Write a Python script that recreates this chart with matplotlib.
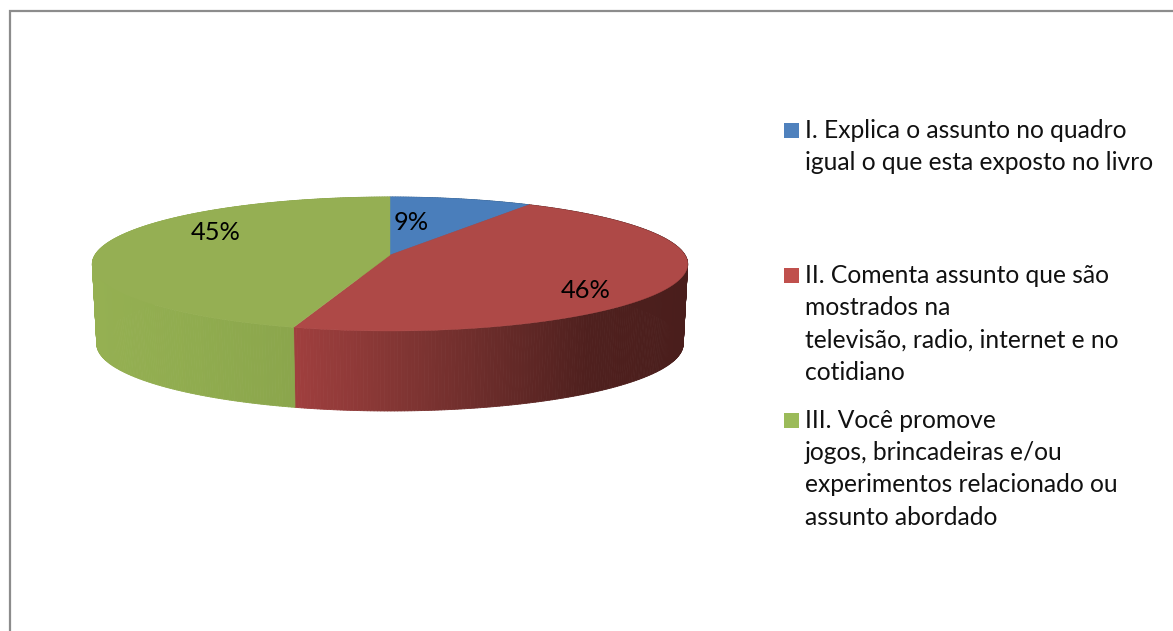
"""
3D style pie chart with legend on the right
"""
import numpy as np
import matplotlib
matplotlib.use("Agg")
import matplotlib.pyplot as plt
from matplotlib.collections import PolyCollection
from matplotlib.colors import LinearSegmentedColormap, Normalize

plt.rcParams["font.family"] = ["Lato", "DejaVu Sans"]

# shares as they sit in the picture, the labels show them rounded
percent_values = [8.8, 45.8, 45.4]
legend_lines = [
    ["I. Explica o assunto no quadro", "igual o que esta exposto no livro"],
    ["II. Comenta assunto que são", "mostrados na",
     "televisão, radio, internet e no", "cotidiano"],
    ["III. Você promove", "jogos, brincadeiras e/ou",
     "experimentos relacionado ou", "assunto abordado"],
]

top_colors = ["#4A7EBB", "#AE4947", "#95AF53"]
legend_colors = ["#4F81BD", "#C0504D", "#9BBB59"]
side_ramps = [
    ["#3A6595", "#2F5478"],
    ["#A03F3E", "#843634", "#6A2C2A", "#4F201E", "#4A1E1C"],
    ["#95B052", "#90AC4F", "#8BA64C", "#829C47"],
]

# pie geometry in pixels
CX, CY = 390, 255
RX, RY = 295, 65.8
PERSP = 0.134
DEPTH = 80
SHRINK = 0.985


def project(angle):
    # angle clockwise from 12 o'clock, nearer part of the disc drawn larger
    u, v = np.sin(angle), np.cos(angle)
    w = 1 + PERSP * v
    return CX + RX * u / w, CY - RY * v / w


fig = plt.figure(figsize=(11.73, 6.31), dpi=100)
ax = fig.add_axes([0, 0, 1, 1])
ax.set_xlim(0, 1173)
ax.set_ylim(631, 0)
ax.axis("off")

# outer frame, cut by the image edge on the right and the bottom
ax.plot([9.5, 9.5, 1173], [631, 11, 11], color="#8C8C8C", lw=1.6,
        solid_joinstyle="miter", zorder=1)

fractions = np.array(percent_values) / sum(percent_values)
edges = np.concatenate([[0], np.cumsum(fractions)]) * 2 * np.pi

# walls first, the top faces cover the hidden part
for i in range(len(percent_values)):
    steps = max(2, int((edges[i + 1] - edges[i]) / 0.01))
    ts = np.linspace(edges[i], edges[i + 1], steps)
    xs, ys = project(ts)
    xb = CX + (xs - CX) * SHRINK
    yb = ys + DEPTH
    quads = [[(xs[j], ys[j]), (xs[j + 1], ys[j + 1]),
              (xb[j + 1], yb[j + 1]), (xb[j], yb[j])] for j in range(steps - 1)]
    cmap = LinearSegmentedColormap.from_list("side", side_ramps[i])
    norm = Normalize(xs.min(), xs.max())
    cols = cmap(norm((xs[:-1] + xs[1:]) / 2))
    ax.add_collection(PolyCollection(quads, facecolors=cols, edgecolors=cols,
                                     linewidths=0.6, zorder=2))

for i in range(len(percent_values)):
    ts = np.linspace(edges[i], edges[i + 1], 200)
    xs, ys = project(ts)
    ax.fill(np.r_[CX, xs], np.r_[CY, ys], color=top_colors[i], lw=0.3, zorder=3)

label_pos = [(411, 223), (586, 290), (216, 233)]
for val, (x, y) in zip(percent_values, label_pos):
    ax.text(x, y, f"{val:.0f}%", fontsize=18.3, color="black",
            ha="center", va="center", zorder=4)

# legend, one baseline per text line
first_baselines = [138, 283, 428]
for i, lines in enumerate(legend_lines):
    y0 = first_baselines[i]
    ax.fill([784, 799, 799, 784], [y0 - 15, y0 - 15, y0, y0],
            color=legend_colors[i], lw=0, zorder=4)
    for k, line in enumerate(lines):
        ax.text(805, y0 + k * 32.2, line, fontsize=17.75, color="#111111",
                ha="left", va="baseline", zorder=4)

fig.savefig("out.png", dpi=100, facecolor="white")
